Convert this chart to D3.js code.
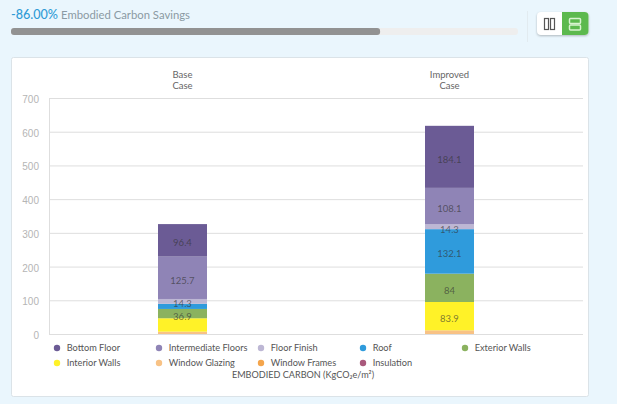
<!DOCTYPE html>
<html>
<head>
<meta charset="utf-8">
<script src="https://d3js.org/d3.v7.min.js"></script>
<style>
html, body { margin: 0; padding: 0; background: #eaf6fd; overflow: hidden; }
svg { display: block; font-family: Lato, sans-serif; }
.y.axis .domain { display: none; }
.y.axis line { stroke: #dedede; }
.y.axis text { fill: #b5b5b5; font-size: 10px; }
</style>
</head>
<body>
<svg class="graphic" width="617" height="404"></svg>
<script>
const cases = ['Base\nCase', 'Improved\nCase'];
const categories = ['Window Glazing', 'Window Frames', 'Insulation', 'Interior Walls', 'Exterior Walls', 'Roof', 'Floor Finish', 'Intermediate Floors', 'Bottom Floor'];
const baseValues = [7, 0, 0, 39.7, 27.6, 15.3, 14.3, 125.7, 96.4];
const improvedValues = [11, 0, 0, 83.9, 84, 132.1, 14.3, 108.1, 184.1];
const baseLabels = ['', '', '', '', '36.9', '', '14.3', '125.7', '96.4'];
const improvedLabels = ['', '', '', '83.9', '84', '132.1', '14.3', '108.1', '184.1'];
const colors = ['#f8c285', '#f4a54c', '#a9597c', '#fff228', '#8bb25f', '#2f9bdc', '#bdb7d4', '#8f84b6', '#6b5b95'];
const legendOrder = ['Bottom Floor', 'Intermediate Floors', 'Floor Finish', 'Roof', 'Exterior Walls', 'Interior Walls', 'Window Glazing', 'Window Frames', 'Insulation'];
const yTicks = [0, 100, 200, 300, 400, 500, 600, 700];
const savings = 86;

const $svg = d3.select('.graphic');
const MARGIN = { top: 98, bottom: 70, left: 49, right: 34 };
const WIDTH = 617, HEIGHT = 404;

// header
const header = $svg.append('text').attr('x', 11).attr('y', 19);
header.append('tspan')
    .attr('fill', '#2f9bd6').attr('font-size', 12.6).attr('font-weight', 500)
    .text(`-${savings.toFixed(2)}%`);
header.append('tspan')
    .attr('dx', 3).attr('fill', '#8a9aa3').attr('font-size', 11.3)
    .text('Embodied Carbon Savings');

// progress bar, 0-100 on the bar scale (fill is shorter than the saving text says, as in the app)
const barScale = d3.scaleLinear().domain([0, 100]).range([11, 518]);
$svg.append('rect')
    .attr('x', 11).attr('y', 28).attr('width', 507).attr('height', 7).attr('rx', 3)
    .attr('fill', '#eeeeee');
$svg.append('rect')
    .attr('x', 11).attr('y', 28).attr('width', barScale(72.8) - 11).attr('height', 7).attr('rx', 3)
    .attr('fill', '#929292');

// toggle buttons
$svg.append('line')
    .attr('x1', 527.5).attr('x2', 527.5).attr('y1', 11).attr('y2', 42)
    .attr('stroke', '#e2ebf0');
$svg.append('rect')
    .attr('x', 537).attr('y', 12).attr('width', 51.5).attr('height', 23).attr('rx', 4)
    .attr('fill', '#fff').style('filter', 'drop-shadow(0 1px 1px rgba(0,0,0,.25))');
$svg.append('path')
    .attr('d', 'M562 12H584.5a4 4 0 0 1 4 4V31a4 4 0 0 1-4 4H562Z')
    .attr('fill', '#5cb94e');
$svg.selectAll('.icon-col').data([544.5, 550.5]).join('rect')
    .attr('x', d => d).attr('y', 18.5).attr('width', 4).attr('height', 11)
    .attr('fill', 'none').attr('stroke', '#555').attr('stroke-width', 1.2);
$svg.selectAll('.icon-row').data([18.5, 25]).join('rect')
    .attr('x', 569.5).attr('y', d => d).attr('width', 11).attr('height', 5).attr('rx', 1)
    .attr('fill', 'none').attr('stroke', '#d8f3cf').attr('stroke-width', 1.5);

// card
$svg.append('rect')
    .attr('x', 11.5).attr('y', 57.5).attr('width', 577).attr('height', 339).attr('rx', 2)
    .attr('fill', '#fff').attr('stroke', '#dbe3e8');

// scales
const x = d3.scaleBand()
    .domain(cases)
    .range([MARGIN.left, WIDTH - MARGIN.right])
    .paddingInner(0.8165)
    .paddingOuter(0.40825);
const y = d3.scaleLinear()
    .domain([0, 700])
    .range([HEIGHT - MARGIN.bottom, MARGIN.top]);
const color = d3.scaleOrdinal().domain(categories).range(colors);

// y axis with gridlines
$svg.append('g')
    .attr('class', 'y axis')
    .attr('transform', `translate(${MARGIN.left},0)`)
    .call(d3.axisLeft(y).tickValues(yTicks).tickFormat(d3.format('d'))
        .tickSizeInner(-(WIDTH - MARGIN.left - MARGIN.right))
        .tickSizeOuter(0)
        .tickPadding(10))
    .call(g => g.selectAll('.tick text').attr('dy', '0.45em'));
$svg.append('line')
    .attr('x1', MARGIN.left + 0.5).attr('x2', MARGIN.left + 0.5)
    .attr('y1', y(700)).attr('y2', y(0))
    .attr('stroke', '#dedede');

// case titles on top
const caseTitle = $svg.append('g').selectAll('text').data(cases).join('text')
    .attr('text-anchor', 'middle')
    .attr('fill', '#666').attr('font-size', 9.5)
    .attr('transform', d => `translate(${x(d) + x.bandwidth() / 2},78)`);
caseTitle.selectAll('tspan').data(d => d.split('\n')).join('tspan')
    .attr('x', 0).attr('dy', (d, i) => i ? 11 : 0)
    .text(d => d);

// stacked bars
const rows = cases.map((c, i) => {
    const row = { name: c };
    categories.forEach((k, j) => { row[k] = (i ? improvedValues : baseValues)[j]; });
    return row;
});
const series = d3.stack().keys(categories)(rows);

$svg.append('g').selectAll('g').data(series).join('g')
    .attr('fill', d => color(d.key))
    .selectAll('rect').data(d => d).join('rect')
    .attr('x', d => x(d.data.name))
    .attr('y', d => y(d[1]))
    .attr('width', x.bandwidth())
    .attr('height', d => y(d[0]) - y(d[1]));

// value labels
$svg.append('g').selectAll('g').data(series).join('g')
    .each(function(s, j) {
        d3.select(this).selectAll('text').data(s).join('text')
            .attr('x', d => x(d.data.name) + x.bandwidth() / 2)
            .attr('y', d => y((d[0] + d[1]) / 2) + 6)
            .attr('text-anchor', 'middle')
            .attr('font-size', 9.5)
            .attr('fill', '#333')
            .attr('fill-opacity', 0.65)
            .text((d, i) => (i ? improvedLabels : baseLabels)[j]);
    });

// legend
const legend = d3.scaleBand().domain(d3.range(5)).range([52, 562]);
const legendItem = $svg.append('g').selectAll('g').data(legendOrder).join('g')
    .attr('transform', (d, i) => `translate(${legend(i % 5)},${348 + Math.floor(i / 5) * 15})`);
legendItem.append('circle')
    .attr('cx', 5).attr('cy', 0).attr('r', 3.2)
    .attr('fill', d => color(d));
legendItem.append('text')
    .attr('x', 14.7).attr('y', 3.3)
    .attr('font-size', 9.2)
    .attr('fill', '#555')
    .text(d => d);

// axis title
$svg.append('text')
    .attr('x', 303).attr('y', 378)
    .attr('text-anchor', 'middle')
    .attr('font-size', 9.1)
    .attr('fill', '#555')
    .text('EMBODIED CARBON (KgCO₂e/m²)');
</script>
</body>
</html>
